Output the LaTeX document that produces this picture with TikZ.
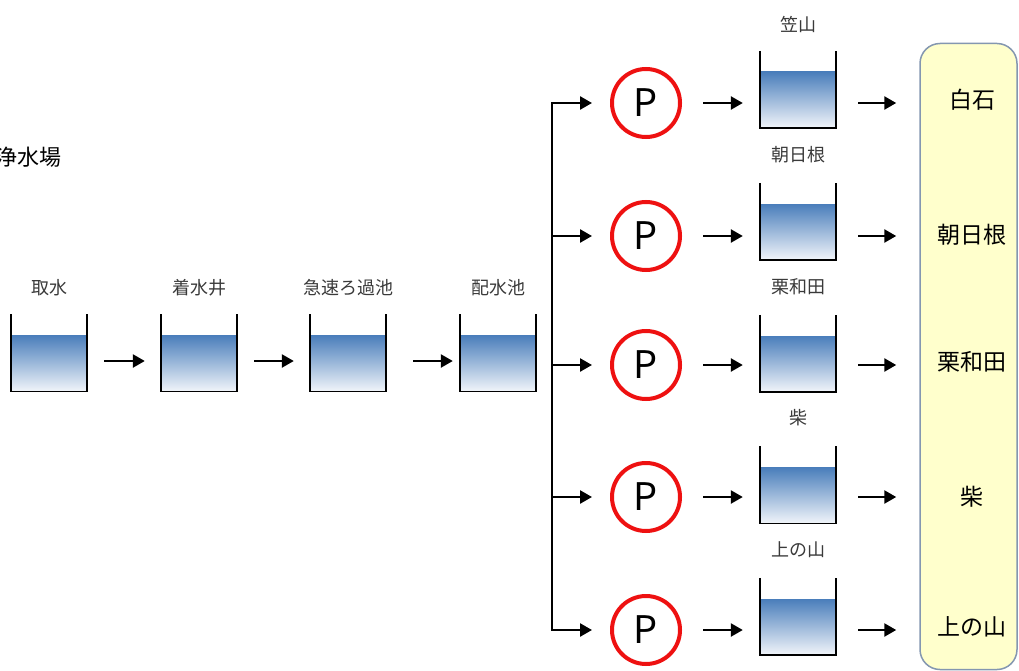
\documentclass[tikz,border=0pt]{standalone}
\usepackage{fontspec}
\setmainfont{Noto Sans CJK JP}
\usetikzlibrary{arrows.meta}
\definecolor{waterTop}{HTML}{4A7EBB}
\definecolor{waterBot}{HTML}{F2F5FA}
\definecolor{pumpRed}{HTML}{EE1111}
\definecolor{boxFill}{HTML}{FFFFCC}
\definecolor{boxLine}{HTML}{8497B0}
\definecolor{lblGray}{HTML}{3A3A3A}
\newcommand\tankwalls[1]{\draw[wall] ([yshift=21pt]#1.north west) -- (#1.south west) -- (#1.south east) -- ([yshift=21pt]#1.north east);}
\begin{document}
\begin{tikzpicture}[x=1pt,y=-1pt,
  water/.style={minimum width=76pt,minimum height=56pt,inner sep=0pt,top color=waterTop,bottom color=waterBot,draw=none},
  wall/.style={line width=1.5pt,black},
  tlabel/.style={font=\fontsize{18}{18}\selectfont,text=lblGray,inner sep=0pt},
  blabel/.style={font=\fontsize{23}{23}\selectfont,text=black,inner sep=0pt},
  arr/.style={line width=2.5pt,-{Triangle[length=12pt,width=13pt]}},
  pump/.style={circle,draw=pumpRed,line width=4pt,minimum size=68pt,inner sep=0pt,font=\fontsize{38}{38}\selectfont},
  bigbox/.style={draw=boxLine,line width=1.5pt,fill=boxFill,rounded corners=20pt,minimum width=97pt,minimum height=626pt,inner sep=0pt}
]
\useasboundingbox (0,0) rectangle (1019,671);
\node[bigbox] (box) at (968.5,356.5) {};
\node[blabel,font=\fontsize{22}{22}\selectfont,anchor=west] (title) at (-5,157) {浄水場};
% left chain
\node[water] (t1) at (49,363.5) {};
\node[water] (t2) at (199,363.5) {};
\node[water] (t3) at (348,363.5) {};
\node[water] (t4) at (498,363.5) {};
\tankwalls{t1}\tankwalls{t2}\tankwalls{t3}\tankwalls{t4}
\node[tlabel] (l1) at (49,288) {取水};
\node[tlabel] (l2) at (199,288) {着水井};
\node[tlabel] (l3) at (348,288) {急速ろ過池};
\node[tlabel] (l4) at (498,288) {配水池};
\draw[arr,shorten <=17pt,shorten >=16pt] (t1.east |- 0,361) -- (t2.west |- 0,361);
\draw[arr,shorten <=17pt,shorten >=16pt] (t2.east |- 0,361) -- (t3.west |- 0,361);
\draw[arr,shorten <=27pt,shorten >=7pt] (t3.east |- 0,361) -- (t4.west |- 0,361);
% distribution
\coordinate (v1) at (552,103);
\coordinate (v2) at (552,236);
\coordinate (v3) at (552,365);
\coordinate (v4) at (552,497);
\coordinate (v5) at (552,630);
\draw[line width=2.5pt,line cap=rect] (v1) -- (v5);
\foreach \i/\py/\ty/\lab/\ly/\rlab/\ry in {1/103/100/笠山/25/白石/100,2/236/232/朝日根/155/朝日根/235,3/365/364/栗和田/287/栗和田/362,4/497/495.5/柴/418/柴/497,5/630/627/上の山/550/上の山/627}{
  \node[pump] (p\i) at (646,\py) {P};
  \node[water] (r\i) at (798,\ty) {};
  \tankwalls{r\i}
  \node[tlabel] (rl\i) at (798,\ly) {\lab};
  \node[blabel] (b\i) at (972,\ry) {\rlab};
  \draw[arr,shorten >=18pt] (v\i) -- (p\i);
  \draw[arr,shorten <=21pt,shorten >=17pt] (p\i.east) -- (p\i.east -| r\i.west);
  \draw[arr,shorten <=22pt,shorten >=23pt] (p\i.east -| r\i.east) -- (p\i.east -| box.west);
}
\end{tikzpicture}
\end{document}
